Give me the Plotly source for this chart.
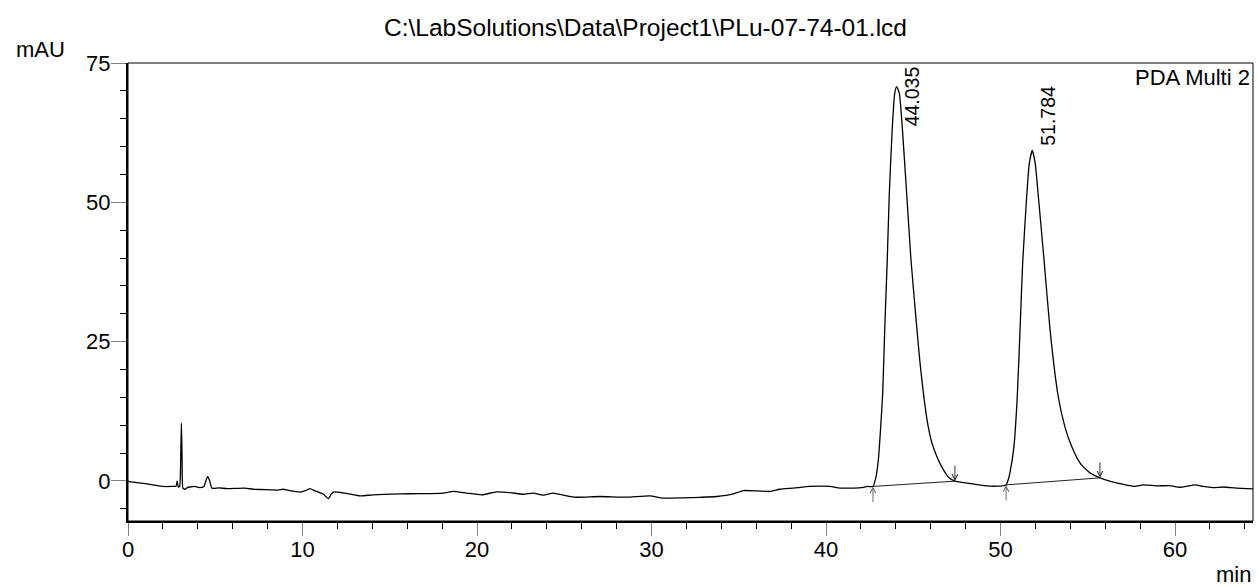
import plotly.graph_objects as go

# ---- data ----
time_min = [
    0.00, 0.50, 1.00, 1.50, 2.02, 2.50, 2.75, 2.82, 2.88, 2.96, 3.02, 3.06, 3.10, 3.15, 3.28,
    3.40, 3.55, 3.80, 4.10, 4.35, 4.50, 4.57, 4.66, 4.81, 5.20, 5.70, 6.20, 6.70, 7.16, 7.60,
    8.20, 8.60, 8.90, 9.20, 9.86, 10.20, 10.43, 10.70, 10.90, 11.20, 11.48, 11.62, 11.77, 12.43,
    13.30, 14.04, 15.59, 16.70, 18.07, 18.64, 19.40, 20.27, 21.13, 21.90, 22.65, 23.23, 23.80,
    24.37, 25.00, 25.60, 27.05, 28.58, 29.91, 30.68, 31.82, 32.80, 33.74, 34.69, 35.26, 36.03,
    36.79, 37.36, 38.13, 39.08, 40.23, 40.80, 41.38, 42.00, 42.40, 42.69, 42.85, 43.00, 43.12,
    43.25, 43.37, 43.51, 43.63, 43.80, 43.94, 44.05, 44.20, 44.37, 44.62, 44.87, 45.20, 45.38,
    45.58, 45.73, 45.86, 46.07, 46.43, 46.70, 47.01, 47.39, 47.90, 48.50, 49.20, 49.80, 50.32,
    50.45, 50.54, 50.77, 50.96, 51.12, 51.27, 51.50, 51.65, 51.82, 51.99, 52.17, 52.51, 52.84,
    53.31, 53.70, 54.08, 54.56, 55.13, 55.70, 56.30, 57.00, 57.70, 58.17, 59.00, 59.70, 60.29,
    61.15, 61.60, 62.18, 62.80, 63.50, 64.47,
]
absorbance_mau = [
    -0.10, -0.30, -0.50, -0.75, -1.00, -1.00, -0.95, 0.00, -1.10, -1.00, 4.00, 10.35, 4.00, -1.30, -1.50,
    -1.20, -1.10, -1.00, -1.20, -1.00, 0.40, 0.77, 0.20, -1.30, -1.25, -1.40, -1.35, -1.30, -1.50, -1.55,
    -1.60, -1.65, -1.50, -1.70, -2.00, -1.70, -1.40, -1.80, -2.00, -2.40, -3.20, -2.50, -2.00, -2.20,
    -2.70, -2.50, -2.33, -2.30, -2.20, -1.90, -2.20, -2.50, -1.97, -2.10, -2.40, -2.20, -2.57,
    -2.20, -2.60, -2.93, -2.80, -2.93, -2.70, -3.10, -3.05, -2.95, -2.80, -2.33, -1.74, -1.80,
    -1.90, -1.50, -1.30, -1.00, -1.00, -1.30, -1.30, -1.20, -1.00, -1.00, 0.50, 3.77, 9.00,
    15.80, 27.60, 39.70, 51.70, 63.50, 69.60, 70.75, 69.60, 63.50, 51.70, 39.70, 27.60, 21.40,
    15.80, 12.20, 9.70, 6.80, 3.80, 2.15, 0.70, -0.05, -0.30, -0.60, -0.90, -0.95, -0.72,
    0.30, 1.44, 6.15, 15.10, 27.10, 39.10, 51.00, 57.00, 59.30, 57.00, 51.00, 39.10, 27.10,
    15.10, 9.60, 6.15, 3.20, 1.44, 0.54, -0.10, -0.60, -1.00, -0.72, -0.90, -0.85, -1.14,
    -0.72, -1.00, -1.20, -1.10, -1.30, -1.44,
]

peak_rt_labels = ["44.035", "51.784"]
peak_rt = [44.05, 51.82]
peak_height = [70.75, 59.30]
peak_start_t = [42.69, 50.32]
peak_start_v = [-1.00, -0.72]
peak_end_t = [47.39, 55.70]
peak_end_v = [-0.05, 0.54]

y_tick_vals = [0, 25, 50, 75]
x_tick_vals = [0, 10, 20, 30, 40, 50, 60]

title_text = "C:\\LabSolutions\\Data\\Project1\\PLu-07-74-01.lcd"
channel_text = "PDA Multi 2"

FONT = "Liberation Sans, Arial, sans-serif"

fig = go.Figure()
fig.add_trace(go.Scatter(
    x=time_min, y=absorbance_mau, mode="lines",
    line=dict(color="black", width=1.3, shape="spline", smoothing=0.5),
    hoverinfo="skip", showlegend=False,
))
for i in range(len(peak_start_t)):
    fig.add_trace(go.Scatter(
        x=[peak_start_t[i], peak_end_t[i]], y=[peak_start_v[i], peak_end_v[i]],
        mode="lines", line=dict(color="#222", width=1), hoverinfo="skip", showlegend=False,
    ))

annotations = []
label_shift = [(15, -10), (16, 35)]
for i, lab in enumerate(peak_rt_labels):
    annotations.append(dict(
        x=peak_rt[i], y=peak_height[i], xref="x", yref="y", text=lab, showarrow=False,
        textangle=-90, xanchor="center", yanchor="middle",
        xshift=label_shift[i][0], yshift=label_shift[i][1],
        font=dict(family=FONT, size=19.5, color="black"),
    ))
for i in range(len(peak_start_t)):
    annotations.append(dict(
        x=peak_start_t[i], y=peak_start_v[i], xref="x", yref="y", text="",
        showarrow=True, ax=0, ay=17, axref="pixel", ayref="pixel",
        arrowhead=5, arrowsize=1.1, arrowwidth=1, arrowcolor="#6a6a6a",
    ))
    annotations.append(dict(
        x=peak_end_t[i], y=peak_end_v[i], xref="x", yref="y", text="",
        showarrow=True, ax=0, ay=-17, axref="pixel", ayref="pixel",
        arrowhead=5, arrowsize=1.1, arrowwidth=1, arrowcolor="#333",
    ))

annotations += [
    dict(x=0.4596, y=1.0786, xref="paper", yref="paper", text=title_text, showarrow=False,
         xanchor="center", yanchor="middle", font=dict(family=FONT, size=24.5, color="black")),
    dict(x=-0.078, y=1.03, xref="paper", yref="paper", text="mAU", showarrow=False,
         xanchor="center", yanchor="middle", font=dict(family=FONT, size=22, color="black")),
    dict(x=1.0, y=-0.117, xref="paper", yref="paper", text="min", showarrow=False,
         xanchor="right", yanchor="middle", font=dict(family=FONT, size=22, color="black")),
    dict(x=0.999, y=0.969, xref="paper", yref="paper", text=channel_text, showarrow=False,
         xanchor="right", yanchor="middle", font=dict(family=FONT, size=22, color="black")),
]

fig.update_layout(
    width=1258, height=586,
    margin=dict(l=128, r=5, t=63, b=65),
    paper_bgcolor="white", plot_bgcolor="white",
    showlegend=False,
    annotations=annotations,
    shapes=[dict(type="rect", xref="paper", yref="paper", x0=0, y0=0, x1=1, y1=1,
                 line=dict(color="black", width=1), layer="above")],
    font=dict(family=FONT, size=22, color="black"),
)
fig.update_xaxes(
    range=[0, 64.47], tickvals=x_tick_vals, ticks="outside", ticklen=13, tickwidth=1,
    tickcolor="#808080", showgrid=False, zeroline=False, showline=True, linecolor="black",
    linewidth=2, tickfont=dict(family=FONT, size=22, color="black"), ticklabelstandoff=-5,
    minor=dict(dtick=2, tick0=0, ticks="outside", ticklen=6, tickcolor="black", tickwidth=1, showgrid=False),
)
fig.update_yaxes(
    range=[-7.2, 75], tickvals=y_tick_vals, ticks="outside", ticklen=15, tickwidth=1,
    tickcolor="#808080", showgrid=False, zeroline=False, showline=True, linecolor="black",
    linewidth=2, tickfont=dict(family=FONT, size=22, color="black"), ticklabelstandoff=-4,
    minor=dict(dtick=5, tick0=0, ticks="outside", ticklen=6, tickcolor="black", tickwidth=1, showgrid=False),
)

fig.write_html(
    "out.html",
    config={"displayModeBar": False},
    post_script="document.body.style.margin='0';document.body.style.overflow='hidden';",
)
